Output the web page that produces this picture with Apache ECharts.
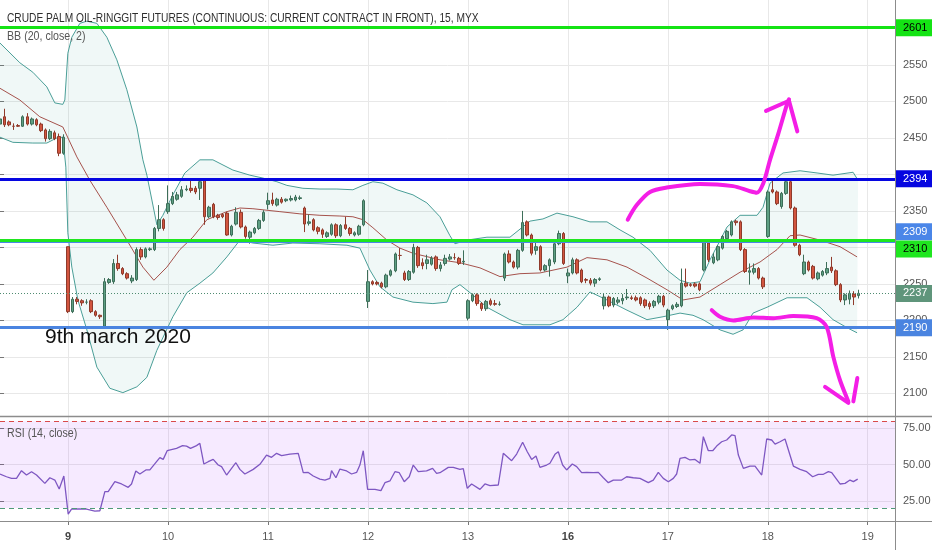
<!DOCTYPE html>
<html><head><meta charset="utf-8">
<script src="https://cdn.jsdelivr.net/npm/echarts@6.0.0/dist/echarts.min.js"></script>
<style>html,body{margin:0;padding:0;background:#fff}#c{width:932px;height:550px}</style>
</head><body><div id="c"></div>
<script>
// ---------- categories (15-minute bars, 22 per session) ----------
const dayNames = ['6','9','10','11','12','13','16','17','18','19'];
const weekStartDays = ['9','16'];
const barsPerSession = 22;
const hiddenBarsFirstDay = 7;
const slotsLastDay = 7;

// ---------- candles ----------
const open = [2469,2479,2472,2466,2467,2466,2479,2469,2475,2469,2461,2449,2457,2452,2429,
 2301,2212,2229,2227,2225,2227,2212,2207,2192,2252,2253,2278,2271,2264,2254,2256,2297,2287,2297,2297,2326,2338,
 2349,2360,2366,2370,2379,2381,2381,2381,2394,2342,2359,2344,2345,2347,2317,2332,2348,2328,2314,2320,2326,2337,
 2359,2365,2358,2366,2364,2365,2365,2367,2354,2333,2338,2327,2324,2315,2318,2331,2316,2331,2326,2317,2318,2331,
 2226,2253,2252,2251,2246,2262,2268,2289,2265,2256,2266,2300,2279,2278,2277,2287,2271,2278,2284,2286,2285,2280,
 2203,2227,2235,2223,2216,2227,2223,2222,2258,2291,2280,2273,2296,2335,2317,2296,2301,2269,2275,2280,2305,2319,
 2261,2265,2283,2269,2256,2255,2251,2256,2220,2232,2221,2225,2227,2231,2231,2231,2231,2228,2223,2220,2225,2233,
 2201,2216,2219,2220,2251,2249,2250,2250,2269,2306,2279,2283,2299,2312,2317,2336,2335,2297,2266,2266,2271,2258,
 2315,2379,2376,2356,2374,2390,2354,2303,2264,2280,2274,2257,2262,2265,2273,2268,2249,2228,2229,2236,2234];
const close = [2476,2468,2468,2466,2466,2479,2469,2476,2468,2460,2449,2459,2449,2429,2451,
 2212,2229,2226,2224,2225,2212,2207,2205,2253,2256,2278,2271,2264,2258,2258,2297,2287,2298,2298,2326,2338,2326,
 2360,2370,2372,2379,2380,2378,2376,2390,2342,2355,2342,2341,2342,2317,2329,2348,2328,2315,2321,2326,2337,2348,
 2364,2360,2366,2362,2366,2367,2369,2368,2332,2335,2324,2322,2318,2320,2331,2316,2330,2326,2319,2320,2329,2364,
 2253,2250,2250,2246,2262,2268,2291,2289,2256,2267,2300,2275,2275,2283,2285,2271,2276,2285,2287,2286,2278,2281,
 2227,2235,2223,2216,2226,2222,2222,2222,2291,2280,2273,2296,2334,2317,2292,2301,2269,2275,2283,2305,2319,2278,
 2265,2283,2265,2253,2255,2251,2256,2257,2232,2220,2230,2228,2230,2232,2230,2228,2223,2220,2219,2226,2233,2221,
 2214,2220,2222,2251,2247,2248,2247,2242,2307,2283,2287,2301,2315,2322,2335,2334,2297,2267,2268,2271,2258,2246,
 2376,2376,2360,2374,2390,2354,2303,2290,2280,2269,2258,2265,2267,2271,2268,2249,2228,2235,2237,2232,2237];
const low = [2467,2465,2466,2461,2465,2465,2467,2467,2466,2458,2445,2447,2447,2425,2427,
 2210,2210,2222,2220,2222,2210,2205,2202,2191,2250,2250,2268,2262,2256,2251,2254,2283,2285,2295,2295,2322,2323,
 2346,2358,2364,2368,2377,2375,2373,2365,2331,2340,2340,2338,2340,2316,2315,2330,2326,2312,2305,2318,2324,2335,
 2352,2357,2356,2360,2362,2363,2363,2365,2321,2330,2322,2318,2313,2313,2316,2313,2314,2324,2316,2315,2316,2329,
 2217,2248,2248,2244,2244,2260,2266,2283,2254,2254,2264,2272,2270,2270,2275,2268,2267,2275,2282,2283,2276,2276,
 2200,2225,2220,2213,2213,2220,2220,2220,2254,2278,2271,2270,2294,2315,2289,2290,2267,2267,2260,2277,2303,2276,
 2251,2263,2263,2251,2251,2248,2246,2254,2215,2218,2218,2222,2222,2228,2228,2226,2220,2217,2215,2217,2222,2218,
 2187,2214,2217,2218,2245,2246,2245,2240,2267,2280,2277,2281,2297,2310,2315,2330,2295,2265,2249,2263,2256,2243,
 2313,2374,2358,2353,2372,2352,2301,2288,2262,2267,2256,2255,2260,2262,2265,2247,2225,2221,2222,2221,2230];
const high = [2479,2490,2474,2470,2469,2481,2484,2478,2477,2471,2463,2462,2460,2456,2455,
 2301,2232,2232,2229,2229,2229,2214,2208,2258,2258,2284,2290,2273,2266,2262,2300,2300,2300,2300,2328,2358,2340,
 2385,2376,2376,2384,2385,2392,2384,2392,2395,2357,2361,2346,2347,2349,2331,2355,2352,2330,2323,2328,2339,2351,
 2375,2375,2368,2369,2367,2371,2372,2371,2356,2345,2340,2329,2326,2322,2333,2333,2332,2342,2328,2322,2331,2366,
 2269,2255,2254,2253,2264,2270,2293,2299,2268,2269,2305,2302,2285,2290,2288,2289,2280,2290,2291,2292,2287,2296,
 2229,2237,2237,2225,2228,2230,2228,2226,2293,2296,2282,2298,2350,2337,2319,2310,2303,2277,2285,2308,2323,2321,
 2271,2286,2285,2271,2258,2258,2258,2259,2237,2234,2232,2232,2236,2243,2234,2234,2233,2230,2226,2228,2235,2235,
 2216,2222,2225,2271,2271,2251,2252,2252,2309,2308,2292,2303,2317,2324,2337,2338,2337,2299,2278,2278,2273,2260,
 2378,2392,2378,2376,2392,2392,2356,2305,2290,2282,2276,2267,2269,2280,2287,2270,2251,2237,2241,2240,2242];

// ---------- Bollinger Bands (20, close, 2): [bar position, price] ----------
const bbUpper = [[0,2580],[4.37,2553],[7.23,2540],[10.31,2520],[12.07,2498],[13.83,2496],[14.27,2502],[14.93,2566],[15.81,2588],[17.58,2607],[19.12,2610],[21.32,2607],[23.52,2588],[25.72,2557],[27.92,2516],[30.13,2465],[31.45,2420],[32.33,2399],[33.43,2365],[34.53,2331],[35.85,2344],[38.05,2372],[40.69,2402],[44.0,2420],[46.86,2420],[51.26,2406],[55.0,2399],[57.87,2395],[60.95,2390],[63.15,2385],[66.67,2381],[70.42,2380],[74.16,2380],[77.68,2379],[79.88,2385],[82.08,2390],[84.29,2388],[87.37,2379],[90.9,2372],[93.97,2361],[96.84,2342],[99.04,2316],[100.14,2305],[102.78,2310],[107.19,2314],[112.25,2314],[116.65,2336],[119.51,2339],[122.6,2347],[126.12,2342],[129.86,2335],[133.6,2335],[136.47,2324],[139.33,2314],[143.07,2296],[146.81,2269],[149.68,2255],[151.88,2251],[154.08,2253],[156.28,2283],[160.03,2328],[162.89,2344],[166.63,2344],[167.95,2355],[169.49,2388],[172.35,2402],[176.1,2405],[179.84,2402],[183.36,2399],[187.77,2403],[188.87,2392]];
const bbBasis = [[0,2518],[4.37,2502],[8.77,2479],[13.83,2465],[16.92,2424],[19.78,2392],[23.52,2355],[27.92,2310],[31.45,2273],[33.87,2255],[36.73,2273],[39.59,2297],[42.45,2314],[45.54,2338],[49.94,2349],[52.8,2354],[55.67,2353],[61.61,2349],[66.01,2346],[70.42,2344],[74.82,2343],[77.68,2342],[79.88,2338],[82.08,2327],[85.17,2310],[88.03,2299],[90.89,2292],[96.84,2283],[101.24,2279],[105.64,2272],[110.05,2260],[114.45,2264],[118.85,2265],[124.8,2273],[129.2,2286],[133.6,2283],[138.01,2273],[142.41,2258],[146.81,2242],[150.34,2228],[154.08,2232],[158.49,2249],[162.89,2266],[167.29,2280],[171.03,2297],[173.9,2316],[176.1,2317],[180.5,2310],[184.9,2301],[188.65,2287]];
const bbLower = [[0,2451],[2.83,2444],[7.23,2443],[10.31,2443],[12.51,2450],[13.83,2451],[14.49,2410],[14.93,2320],[15.81,2273],[17.14,2228],[19.12,2187],[21.32,2136],[24.18,2107],[27.04,2101],[30.13,2109],[32.33,2122],[34.53,2159],[38.05,2205],[41.13,2238],[44.0,2251],[46.86,2265],[49.94,2287],[52.8,2310],[55.67,2306],[60.07,2303],[64.47,2306],[70.42,2305],[76.36,2303],[79.22,2299],[81.42,2269],[83.63,2246],[86.49,2232],[90.89,2225],[95.29,2223],[98.38,2225],[99.48,2242],[101.24,2249],[103.44,2238],[107.19,2218],[112.25,2201],[115.11,2194],[121.06,2194],[123.92,2201],[127.0,2218],[129.86,2239],[133.6,2228],[138.01,2214],[142.41,2201],[145.94,2205],[149.68,2210],[152.54,2207],[154.74,2201],[158.49,2187],[161.35,2181],[163.55,2187],[165.75,2210],[168.83,2218],[173.24,2231],[177.64,2231],[180.5,2218],[183.36,2201],[186.45,2190],[188.65,2183]];

// ---------- RSI (14, close): [bar position, value] ----------
const rsi = [[0,43.5],[1.43,41.6],[2.53,40.5],[3.63,40.5],[4.73,45.8],[5.83,42.8],[6.94,45.1],[8.04,42.8],[9.87,37.0],[10.97,40.9],[12.07,39.3],[13.03,33.1],[14.05,42.1],[15.01,15.8],[15.74,19.3],[17.58,19.3],[19.04,19.3],[20.88,17.9],[21.98,18.1],[23.08,31.3],[23.81,31.3],[25.28,38.2],[26.75,36.6],[28.22,34.3],[28.95,36.6],[29.9,45.6],[30.79,43.5],[32.11,46.3],[32.99,46.3],[34.46,52.0],[35.19,54.8],[35.92,53.6],[36.8,59.6],[38.86,61.2],[40.18,63.1],[41.06,62.8],[41.94,61.2],[43.26,63.1],[43.99,64.7],[44.88,50.4],[45.83,52.0],[46.93,53.6],[48.03,49.7],[48.77,48.6],[49.87,42.8],[50.97,47.4],[51.92,51.3],[52.8,46.7],[53.9,43.5],[55.74,46.7],[57.21,50.2],[58.67,56.6],[59.77,55.0],[60.88,57.8],[61.98,56.2],[63.81,57.3],[65.65,57.8],[66.75,44.4],[67.85,44.6],[68.95,42.1],[70.41,40.0],[71.52,39.3],[72.62,40.5],[72.98,45.8],[73.94,40.9],[74.82,46.9],[76.29,45.6],[77.39,43.5],[78.49,44.6],[79.22,49.7],[79.96,59.6],[80.91,32.9],[82.53,32.9],[83.85,32.0],[84.73,37.5],[85.83,38.7],[86.93,45.1],[87.88,44.4],[88.98,38.2],[90.08,41.6],[90.96,49.7],[92.07,45.1],[93.9,45.6],[95.22,47.4],[96.1,43.9],[96.84,44.4],[98.67,48.1],[99.77,48.1],[101.24,46.7],[101.97,47.2],[102.85,33.6],[103.81,36.6],[105.65,32.9],[106.74,36.6],[107.84,35.4],[109.68,35.9],[110.78,57.8],[112.62,52.7],[113.72,57.3],[115.04,65.4],[116.06,58.9],[117.02,53.6],[117.97,55.9],[118.85,48.1],[120.32,49.7],[121.05,50.9],[122.15,57.1],[122.89,58.9],[123.84,49.7],[124.72,46.3],[125.97,50.4],[126.93,48.6],[128.03,44.4],[129.13,44.6],[130.6,44.4],[131.7,44.6],[132.8,40.9],[133.9,37.5],[135.0,39.3],[136.83,39.3],[137.94,41.6],[139.4,40.9],[140.87,40.5],[142.7,37.5],[143.8,39.3],[144.9,44.6],[146.0,40.5],[147.11,38.2],[148.21,40.5],[148.94,43.5],[149.68,54.3],[150.78,55.0],[151.88,53.2],[152.98,53.6],[154.08,50.9],[154.81,69.3],[155.91,59.6],[156.87,59.6],[157.75,62.8],[158.85,65.8],[159.95,67.0],[161.05,70.5],[161.79,70.0],[162.52,56.6],[163.62,47.4],[165.09,49.0],[166.19,49.0],[167.66,42.8],[168.76,67.7],[169.86,67.0],[170.6,64.2],[171.69,65.8],[172.79,67.7],[174.63,49.0],[176.1,46.7],[177.56,45.1],[178.88,41.6],[180.13,43.3],[181.23,43.3],[182.33,45.1],[183.07,44.4],[184.9,36.6],[186.0,37.0],[187.1,39.3],[187.84,38.2],[188.79,40.0]];
const rsiBands = [80, 20];

// ---------- horizontal levels and price ticks ----------
const levelPrices = [2601, 2394, 2309, 2310, 2190];
const lastPrice = 2237;
const hiddenPriceTicks = [2300, 2400, 2600];

// ---------- hand-drawn annotations: [bar position, price] ----------
const drawUp = [[138.17,2338],[140.15,2358],[143.08,2376],[146.75,2382],[154.08,2387],[161.35,2384],[165.09,2377],[166.56,2375],[168.02,2388],[169.49,2420],[171.32,2456],[173.17,2495],[173.67,2503]];
const drawUpHead = [[168.61,2487],[173.67,2501],[175.5,2459]];
const drawDown = [[156.66,2214],[158.49,2205],[161.41,2200],[165.82,2204],[170.22,2203],[174.62,2206],[179.77,2203],[181.97,2191],[183.43,2150],[184.9,2118],[186.73,2089]];
const drawDownHeadL = [[181.6,2109],[186.73,2087]];
const drawDownHeadR = [[187.83,2089],[188.71,2121]];

// ---------- build ----------
const categories = [];
dayNames.forEach((d, di) => {
  const from = di === 0 ? hiddenBarsFirstDay : 0;
  const to = di === dayNames.length - 1 ? slotsLastDay : barsPerSession;
  for (let k = from; k < to; k++) categories.push(d + '#' + k);
});
const lastIndex = categories.length - 1;
const isDayStart = (i) => categories[i].endsWith('#0');
const candles = open.map((o, i) => [o, close[i], low[i], high[i]]);

const levelStyles = {
  2601: {line: '#14e314', bg: '#14e314', fg: '#000', shift: 0},
  2394: {line: '#0606e0', bg: '#0606e0', fg: '#fff', shift: 0},
  2309: {line: '#4a86e8', bg: '#4a86e8', fg: '#fff', shift: -9},
  2310: {line: '#1fe61f', bg: '#1fe61f', fg: '#000', shift: 9},
  2190: {line: '#4a84e0', bg: '#4a84e0', fg: '#fff', shift: 0}
};
const FONT = '"Liberation Sans", Arial, sans-serif';
const labelBox = (bg, fg, shift) => ({
  show: true, position: 'end', distance: 0, formatter: '{c}',
  backgroundColor: bg, color: fg, fontSize: 11, fontFamily: FONT,
  padding: [3, 2, 2, 8], width: 27, lineHeight: 12, offset: [0, shift]
});
const levelMarks = levelPrices.map(v => {
  const s = levelStyles[v];
  return {yAxis: v, lineStyle: {color: s.line, width: 3, type: 'solid'}, label: labelBox(s.bg, s.fg, s.shift)};
});
levelMarks.push({yAxis: lastPrice, lineStyle: {color: '#4f8b70', width: 1, type: [1, 2]}, label: labelBox('#5f957b', '#fff', 0)});

const W = 895;
const GRIDLINE = '#e8e8e8';
const magenta = '#f41ee6';
const drawSeries = (data, smooth) => ({
  type: 'line', xAxisIndex: 2, yAxisIndex: 0, data, smooth, showSymbol: false, silent: true, z: 20,
  lineStyle: {color: magenta, width: 4, cap: 'round', join: 'round'}
});

const option = {
  animation: false,
  backgroundColor: '#fff',
  grid: [
    {left: 0, top: 0, width: W, height: 416, outerBoundsMode: 'none'},
    {left: 0, top: 416, width: W, height: 105, outerBoundsMode: 'none'},
    {left: 0, top: 28.46, width: W, height: 364.94, outerBoundsMode: 'none'},
    {left: 0, top: 428.4, width: W, height: 72.35, outerBoundsMode: 'none'}
  ],
  xAxis: [
    {type: 'category', gridIndex: 0, data: categories, boundaryGap: false,
     axisLine: {show: false}, axisTick: {show: false}, axisLabel: {show: false},
     splitLine: {show: true, interval: (i) => isDayStart(i), lineStyle: {color: GRIDLINE}}},
    {type: 'category', gridIndex: 1, data: categories, boundaryGap: false, position: 'bottom',
     axisLine: {show: false},
     axisTick: {show: true, interval: (i) => isDayStart(i), length: 4, lineStyle: {color: '#777'}},
     axisLabel: {show: true, interval: (i) => isDayStart(i), margin: 10, color: '#555', fontSize: 11, fontFamily: FONT,
       formatter: (v) => { const d = v.split('#')[0]; return weekStartDays.includes(d) ? '{b|' + d + '}' : d; },
       rich: {b: {fontWeight: 'bold', color: '#444', fontSize: 11, fontFamily: FONT}}},
     splitLine: {show: true, interval: (i) => isDayStart(i), lineStyle: {color: GRIDLINE}}},
    {type: 'value', gridIndex: 0, min: 0, max: lastIndex, show: false},
    {type: 'value', gridIndex: 1, min: 0, max: lastIndex, show: false},
    {type: 'value', gridIndex: 2, min: 0, max: 1, show: false},
    {type: 'value', gridIndex: 3, min: 0, max: 1, show: false}
  ],
  yAxis: [
    {type: 'value', gridIndex: 0, position: 'right', min: 2069, max: 2639,
     axisLine: {show: false}, axisTick: {show: false}, axisLabel: {show: false}, splitLine: {show: false}},
    {type: 'value', gridIndex: 1, position: 'right', min: 11.02, max: 83.59,
     axisLine: {show: false}, axisTick: {show: false}, axisLabel: {show: false}, splitLine: {show: false}},
    {type: 'value', gridIndex: 2, position: 'right', min: 2100, max: 2600, interval: 50,
     axisLine: {show: false}, axisTick: {show: true, length: 4, lineStyle: {color: '#777'}},
     axisLabel: {margin: 8, color: '#555', fontSize: 11, fontFamily: FONT,
       formatter: (v) => hiddenPriceTicks.includes(v) ? '' : String(v)},
     splitLine: {show: true, lineStyle: {color: GRIDLINE}}},
    {type: 'value', gridIndex: 3, position: 'right', min: 25, max: 75, interval: 25,
     axisLine: {show: false}, axisTick: {show: true, length: 4, lineStyle: {color: '#777'}},
     axisLabel: {margin: 8, color: '#555', fontSize: 11, fontFamily: FONT, formatter: (v) => v.toFixed(2)},
     splitLine: {show: true, lineStyle: {color: GRIDLINE}}}
  ],
  series: [
    {type: 'custom', xAxisIndex: 2, yAxisIndex: 0, data: [[0, 2300]], silent: true, z: 1, clip: true,
     renderItem: (params, api) => {
       const pts = bbUpper.concat(bbLower.slice().reverse()).map(p => api.coord(p));
       return {type: 'polygon', shape: {points: pts}, style: {fill: 'rgba(64,160,150,0.08)'}};
     }},
    {type: 'line', xAxisIndex: 2, yAxisIndex: 0, data: bbUpper, showSymbol: false, silent: true, z: 2,
     lineStyle: {color: '#4a9e97', width: 1}},
    {type: 'line', xAxisIndex: 2, yAxisIndex: 0, data: bbLower, showSymbol: false, silent: true, z: 2,
     lineStyle: {color: '#4a9e97', width: 1}},
    {type: 'line', xAxisIndex: 2, yAxisIndex: 0, data: bbBasis, showSymbol: false, silent: true, z: 2,
     lineStyle: {color: '#a5524c', width: 1}},
    {type: 'candlestick', xAxisIndex: 0, yAxisIndex: 0, data: candles, barWidth: 3, z: 3,
     itemStyle: {color: '#5e9f83', color0: '#d2553f', borderColor: '#3d6e59', borderColor0: '#8f3a2b', borderWidth: 1},
     markLine: {silent: true, symbol: 'none', animation: false, data: levelMarks}},
    {type: 'line', xAxisIndex: 3, yAxisIndex: 1, data: rsi, showSymbol: false, silent: true, z: 3,
     lineStyle: {color: '#7e57c2', width: 1.3},
     markArea: {silent: true, itemStyle: {color: 'rgba(153,21,255,0.09)'},
       data: [[{yAxis: rsiBands[0]}, {yAxis: rsiBands[1]}]]},
     markLine: {silent: true, symbol: 'none', label: {show: false}, lineStyle: {type: [5, 4], width: 1},
       data: [{yAxis: rsiBands[0], lineStyle: {color: '#d94a4a', type: [5, 4], width: 1}},
              {yAxis: rsiBands[1], lineStyle: {color: '#4f9a78', type: [5, 4], width: 1}}]}},
    drawSeries(drawUp, 0.3),
    drawSeries(drawUpHead, false),
    drawSeries(drawDown, 0.3),
    drawSeries(drawDownHeadL, false),
    drawSeries(drawDownHeadR, false)
  ],
  graphic: [
    {type: 'line', z: 100, silent: true, shape: {x1: 0, y1: 416.5, x2: 932, y2: 416.5}, style: {stroke: '#8c8c8c', lineWidth: 1.5}},
    {type: 'line', z: 100, silent: true, shape: {x1: 0, y1: 521.5, x2: 932, y2: 521.5}, style: {stroke: '#8c8c8c', lineWidth: 1.2}},
    {type: 'line', z: 100, silent: true, shape: {x1: 895.5, y1: 0, x2: 895.5, y2: 550}, style: {stroke: '#8c8c8c', lineWidth: 1}},
    {type: 'text', z: 100, silent: true, x: 7, y: 18, scaleX: 0.785,
     style: {text: 'CRUDE PALM OIL-RINGGIT FUTURES (CONTINUOUS: CURRENT CONTRACT IN FRONT), 15, MYX', font: '13px "Liberation Sans", Arial', fill: '#2e2e2e', verticalAlign: 'middle'}},
    {type: 'text', z: 100, silent: true, x: 7, y: 37, scaleX: 0.85,
     style: {text: 'BB (20, close, 2)', font: '12.5px "Liberation Sans", Arial', fill: '#555', verticalAlign: 'middle'}},
    {type: 'text', z: 100, silent: true, x: 7, y: 434, scaleX: 0.85,
     style: {text: 'RSI (14, close)', font: '12.5px "Liberation Sans", Arial', fill: '#555', verticalAlign: 'middle'}},
    {type: 'text', z: 100, silent: true, x: 45, y: 337,
     style: {text: '9th march 2020', font: '21px "Liberation Sans", Arial', fill: '#111', verticalAlign: 'middle'}}
  ]
};
const chart = echarts.init(document.getElementById('c'));
chart.setOption(option);
</script></body></html>
